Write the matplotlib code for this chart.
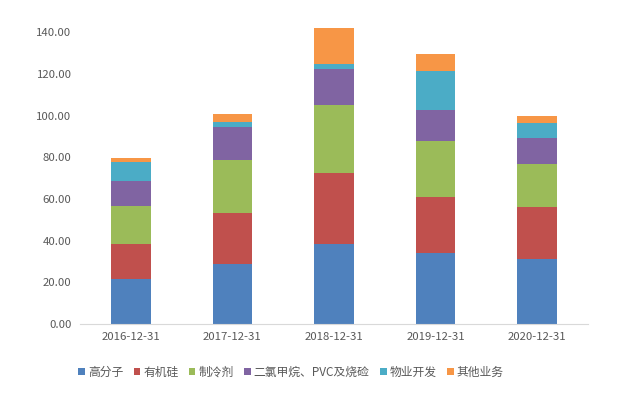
import matplotlib.pyplot as plt
import numpy as np

plt.rcParams['font.family'] = ['Noto Sans CJK SC', 'DejaVu Sans']

years = ['2016-12-31', '2017-12-31', '2018-12-31', '2019-12-31', '2020-12-31']
labels = ['高分子', '有机硅', '制冷剂', '二氯甲烷、PVC及烧硷', '物业开发', '其他业务']
gaofenzi = [21.6, 28.9, 38.4, 34.2, 31.3]
youjigui = [16.8, 24.5, 34.1, 26.6, 24.8]
zhilengji = [18.2, 25.1, 32.6, 27.2, 20.7]
erlv = [12.0, 15.9, 17.3, 14.8, 12.5]
wuye = [9.0, 2.5, 2.5, 18.6, 7.0]
qita = [1.9, 3.9, 17.1, 8.2, 3.7]
colors = ['#4F81BD', '#C0504D', '#9BBB59', '#8064A2', '#4BACC6', '#F79646']

series = [gaofenzi, youjigui, zhilengji, erlv, wuye, qita]

fig = plt.figure(figsize=(6.29, 3.95), dpi=100)
ax = fig.add_axes([0.127, 0.180, 0.808, 0.754])

x = np.arange(len(years))
bottom = np.zeros(len(years))
handles = []
for vals, lab, c in zip(series, labels, colors):
    b = ax.bar(x, vals, 0.39, bottom=bottom, color=c, label=lab, clip_on=False)
    handles.append(b)
    bottom += np.array(vals)

ax.set_xlim(-0.5, 4.5)
ax.set_ylim(0, 143)
ax.set_yticks(np.arange(0, 141, 20))
ax.set_yticklabels(['%.2f' % v for v in np.arange(0, 141, 20)])
ax.set_xticks(x)
ax.set_xticklabels(years)
ax.tick_params(length=0, labelsize=8.2, colors='#595959', pad=6)
for s in ['top', 'right', 'left']:
    ax.spines[s].set_visible(False)
ax.spines['bottom'].set_color('#D9D9D9')

fig.legend(handles=handles, labels=labels, loc='center', bbox_to_anchor=(291 / 629, 0.058),
           ncol=6, frameon=False, fontsize=8.5, handlelength=0.55, handleheight=0.55,
           handletextpad=0.25, columnspacing=0.9, labelcolor='#595959')

plt.savefig('out.png', dpi=100)
